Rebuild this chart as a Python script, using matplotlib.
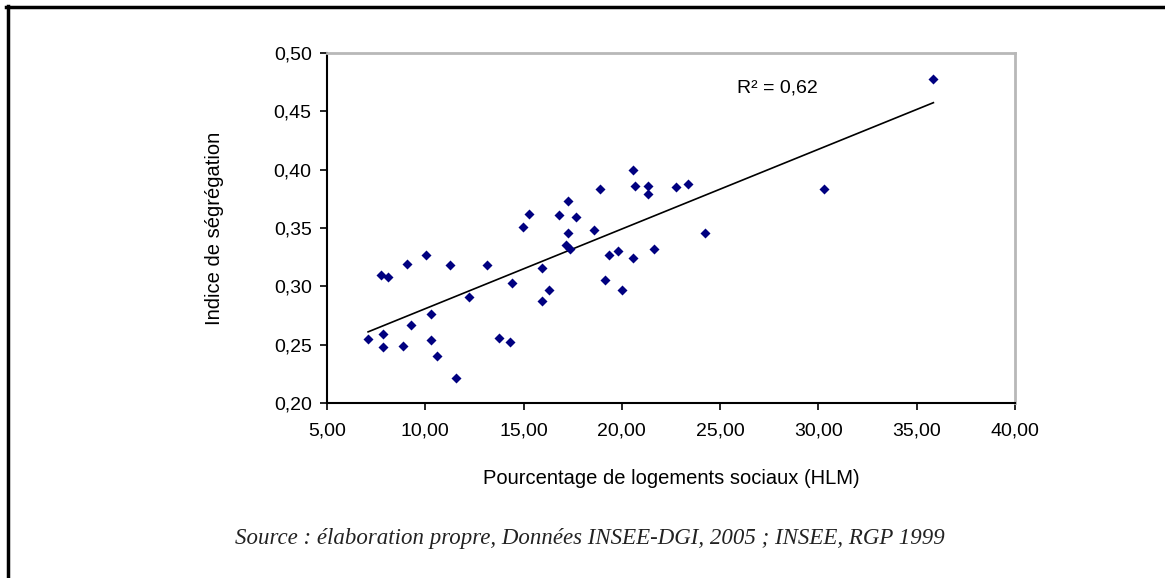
import numpy as np
import matplotlib
matplotlib.use("Agg")
import matplotlib.pyplot as plt
from matplotlib.lines import Line2D
from matplotlib.ticker import FuncFormatter

# % logements sociaux (HLM) vs indice de ségrégation
hlm = [7.09, 7.74, 8.11, 7.87, 7.87, 8.85, 9.06, 9.28, 10.04, 10.28,
       10.28, 10.58, 11.28, 11.57, 12.24, 13.12, 13.77, 14.33, 14.42, 14.95,
       15.29, 15.96, 16.28, 15.96, 16.82, 17.26, 17.69, 17.26, 17.15, 17.38,
       18.58, 18.90, 19.12, 19.35, 19.78, 20.02, 20.55, 20.65, 20.55, 21.33,
       21.33, 21.63, 22.74, 23.39, 24.21, 30.28, 35.85]
segregation = [0.255, 0.310, 0.308, 0.259, 0.248, 0.249, 0.319, 0.267, 0.327, 0.276,
               0.254, 0.240, 0.318, 0.221, 0.291, 0.318, 0.256, 0.252, 0.303, 0.351,
               0.362, 0.316, 0.297, 0.287, 0.361, 0.373, 0.359, 0.346, 0.335, 0.332,
               0.348, 0.383, 0.305, 0.327, 0.330, 0.297, 0.400, 0.386, 0.324, 0.386,
               0.379, 0.332, 0.385, 0.388, 0.346, 0.383, 0.478]
r2_text = "R² = 0,62"
source_text = "Source : élaboration propre, Données INSEE-DGI, 2005 ; INSEE, RGP 1999"

plt.rcParams['font.family'] = ['Liberation Sans', 'DejaVu Sans']

fig = plt.figure(figsize=(11.65, 5.78), dpi=100)
ax = fig.add_axes([0.2807, 0.3028, 0.5905, 0.6055])

x = np.array(hlm)
y = np.array(segregation)
ax.scatter(x, y, marker='D', s=26, color='#000080', zorder=3, linewidths=0)

# linear trend line
a, b = np.polyfit(x, y, 1)
xs = np.array([x.min(), x.max()])
ax.plot(xs, a * xs + b, color='black', lw=1.2, zorder=2)

ax.set_xlim(5, 40)
ax.set_ylim(0.20, 0.50)
ax.set_xticks(np.arange(5, 41, 5))
ax.set_yticks(np.arange(0.20, 0.501, 0.05))
fmt2 = FuncFormatter(lambda v, p: f"{v:.2f}".replace('.', ','))
ax.xaxis.set_major_formatter(fmt2)
ax.yaxis.set_major_formatter(fmt2)
ax.tick_params(direction='out', length=5, width=1.2, labelsize=14, colors='black', pad=6)
ax.tick_params(axis='x', pad=9)

for s in ['left', 'bottom']:
    ax.spines[s].set_color('black')
    ax.spines[s].set_linewidth(1.5)
for s in ['top', 'right']:
    ax.spines[s].set_color('#b8b8b8')
    ax.spines[s].set_linewidth(2)

ax.set_xlabel("Pourcentage de logements sociaux (HLM)", fontsize=14.5, labelpad=21)
ax.set_ylabel("Indice de ségrégation", fontsize=14.5, labelpad=36)

ax.text(25.85, 0.470, r2_text, fontsize=14, va='center', ha='left')

fig.text(0.506, 0.069, source_text, fontsize=16.5, style='italic',
         family=['Liberation Serif', 'DejaVu Serif'], ha='center', va='center', color='#222222')

# outer frame (left and top edges)
fig.add_artist(Line2D([0.0065, 0.0065], [0.0, 0.989], transform=fig.transFigure, color='black', lw=2.5))
fig.add_artist(Line2D([0.0055, 1.0], [0.988, 0.988], transform=fig.transFigure, color='black', lw=2.5))

fig.savefig("out.png", dpi=100, facecolor='white')
